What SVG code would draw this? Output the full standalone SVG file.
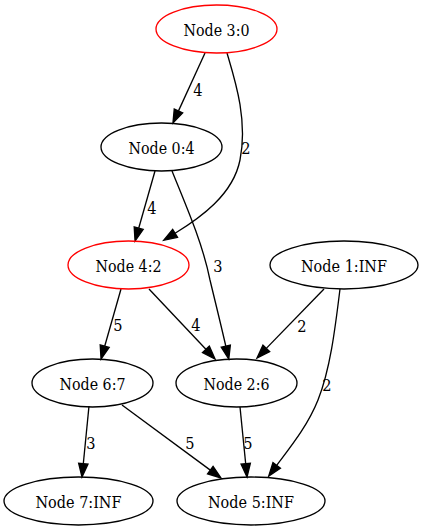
<svg xmlns="http://www.w3.org/2000/svg" width="424" height="531" viewBox="0 0 424 531">
<style>
.n ellipse{fill:none;stroke:#000;stroke-width:1.33}
.n.r ellipse{stroke:#ff0000}
text{font-family:'DejaVu Serif',serif;font-size:17px;text-anchor:middle;fill:#000}
.e path{fill:none;stroke:#000;stroke-width:1.33;marker-end:url(#ah)}
</style>
<defs>
<marker id="ah" markerUnits="userSpaceOnUse" markerWidth="16" markerHeight="12" viewBox="0 -6 16 12" refX="0" refY="0" orient="auto" overflow="visible">
<path d="M0,-4.67 L13.33,0 L0,4.67 z" fill="#000" stroke="#000" stroke-width="1.33"/>
</marker>
</defs>
<rect width="424" height="531" fill="#fff"/>
<g id="edges" class="e">
<path d="M205,53 L178.5,110.9"/>
<path d="M227,53 C235,80 248,120 240,160 C233,195 200,218 175.1,233.3"/>
<path d="M155,171 L138.7,228.2"/>
<path d="M172,171 C188,210 203,245 210,280 C216,305 221,325 225.8,346.1"/>
<path d="M121,289 L104.7,346.2"/>
<path d="M149,289 L205.9,349.3"/>
<path d="M324,289 L266.3,348.4"/>
<path d="M340,289 C335,330 330,370 318,400 C308,425 292,445 276.7,465.4"/>
<path d="M122,405 L210.3,470.1"/>
<path d="M89,406 L83.3,463.7"/>
<path d="M240,407 L245.7,463.7"/>
<text x="198" y="96" textLength="9.3" lengthAdjust="spacingAndGlyphs">4</text>
<text x="246" y="154" textLength="9.3" lengthAdjust="spacingAndGlyphs">2</text>
<text x="152" y="214" textLength="9.3" lengthAdjust="spacingAndGlyphs">4</text>
<text x="218" y="272" textLength="9.3" lengthAdjust="spacingAndGlyphs">3</text>
<text x="118" y="331" textLength="9.3" lengthAdjust="spacingAndGlyphs">5</text>
<text x="196" y="331" textLength="9.3" lengthAdjust="spacingAndGlyphs">4</text>
<text x="302" y="332" textLength="9.3" lengthAdjust="spacingAndGlyphs">2</text>
<text x="327" y="391" textLength="9.3" lengthAdjust="spacingAndGlyphs">2</text>
<text x="190" y="449" textLength="9.3" lengthAdjust="spacingAndGlyphs">5</text>
<text x="91" y="449" textLength="9.3" lengthAdjust="spacingAndGlyphs">3</text>
<text x="248" y="449" textLength="9.3" lengthAdjust="spacingAndGlyphs">5</text>
</g>
<g id="node3" class="n r"><ellipse cx="216.5" cy="29" rx="60.5" ry="24"/><text x="216.5" y="35.5" textLength="66" lengthAdjust="spacingAndGlyphs">Node 3:0</text></g>
<g id="node0" class="n"><ellipse cx="161.5" cy="147" rx="60.5" ry="24"/><text x="161.5" y="153.5" textLength="66" lengthAdjust="spacingAndGlyphs">Node 0:4</text></g>
<g id="node4" class="n r"><ellipse cx="128.5" cy="265" rx="60.5" ry="24"/><text x="128.5" y="271.5" textLength="66" lengthAdjust="spacingAndGlyphs">Node 4:2</text></g>
<g id="node1" class="n"><ellipse cx="344" cy="265" rx="74" ry="24"/><text x="344" y="271.5" textLength="86" lengthAdjust="spacingAndGlyphs">Node 1:INF</text></g>
<g id="node6" class="n"><ellipse cx="92.5" cy="383" rx="60.5" ry="24"/><text x="92.5" y="389.5" textLength="66" lengthAdjust="spacingAndGlyphs">Node 6:7</text></g>
<g id="node2" class="n"><ellipse cx="236.5" cy="383" rx="60.5" ry="24"/><text x="236.5" y="389.5" textLength="66" lengthAdjust="spacingAndGlyphs">Node 2:6</text></g>
<g id="node7" class="n"><ellipse cx="78.5" cy="501" rx="74.5" ry="24"/><text x="78.5" y="507.5" textLength="86" lengthAdjust="spacingAndGlyphs">Node 7:INF</text></g>
<g id="node5" class="n"><ellipse cx="251" cy="501" rx="74" ry="24"/><text x="251" y="507.5" textLength="86" lengthAdjust="spacingAndGlyphs">Node 5:INF</text></g>
</svg>
